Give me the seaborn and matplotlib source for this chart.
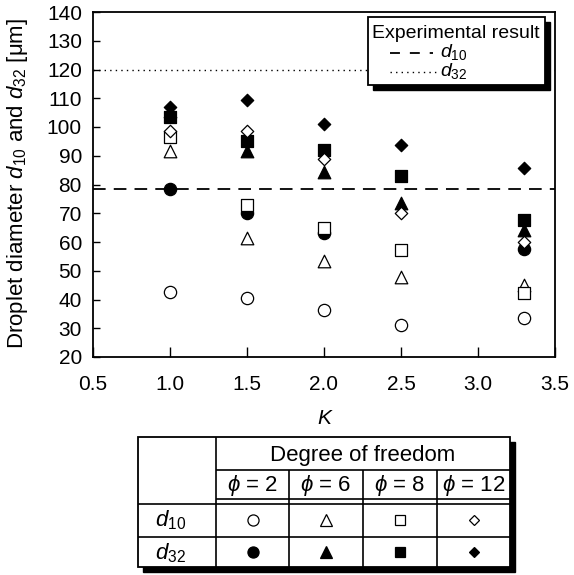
import numpy as np
import pandas as pd
import matplotlib
matplotlib.use("Agg")
import matplotlib.pyplot as plt
from matplotlib.patches import Rectangle
import seaborn as sns

# ---------------- data ----------------
K = [1.0, 1.5, 2.0, 2.5, 3.3]
d10_phi2 = [42.5, 40.5, 36.5, 31.0, 33.5]
d32_phi2 = [78.5, 70.0, 63.0, np.nan, 57.5]
d10_phi6 = [91.7, 61.5, 53.5, 47.8, 45.2]
d32_phi6 = [105.5, 91.8, 84.5, 73.5, 64.2]
d10_phi8 = [96.5, 72.8, 65.0, 57.2, 42.2]
d32_phi8 = [103.5, 95.3, 92.0, 83.0, 67.5]
d10_phi12 = [98.5, 98.5, 89.0, 70.0, 60.0]
d32_phi12 = [107.0, 109.5, 101.0, 93.8, 85.8]
exp_d10 = 78.5
exp_d32 = 120.0
phi_labels = ["2", "6", "8", "12"]
x_ticks = [0.5, 1.0, 1.5, 2.0, 2.5, 3.0, 3.5]
y_ticks = list(range(20, 141, 10))

sns.set_theme(style="ticks")
plt.rcParams["font.family"] = ["Liberation Sans", "DejaVu Sans"]
plt.rcParams["mathtext.fontset"] = "custom"
plt.rcParams["mathtext.it"] = "Liberation Sans:italic"
plt.rcParams["mathtext.rm"] = "Liberation Sans"
plt.rcParams["mathtext.fallback"] = "cm"

W, H = 574, 575
fig = plt.figure(figsize=(W / 100, H / 100), dpi=100)
fig.patch.set_facecolor("white")
L, R, T, B = 93, 555, 12, 357
ax = fig.add_axes([L / W, 1 - B / H, (R - L) / W, (B - T) / H])
ax.set_facecolor("white")

series = [
    (d10_phi2, "o", 78, False),
    (d32_phi2, "o", 78, True),
    (d10_phi6, "^", 82, False),
    (d32_phi6, "^", 82, True),
    (d10_phi8, "s", 66, False),
    (d32_phi8, "s", 66, True),
    (d10_phi12, "D", 40, False),
    (d32_phi12, "D", 40, True),
]
for vals, m, s, filled in series:
    df = pd.DataFrame({"K": K, "d": vals})
    sns.scatterplot(data=df, x="K", y="d", marker=m, s=s,
                    color="black" if filled else "white",
                    edgecolor="black", linewidth=0.9, ax=ax, legend=False,
                    zorder=3)

ax.axhline(exp_d10, color="black", lw=1.3, dashes=(7, 4.5), zorder=2)
ax.axhline(exp_d32, color="black", lw=1.0, dashes=(1, 3), zorder=2)

ax.set_xlim(0.5, 3.5)
ax.set_ylim(20, 140)
ax.set_xticks(x_ticks)
ax.set_xticklabels([f"{v:.1f}" for v in x_ticks])
ax.set_yticks(y_ticks)
ax.set_xlabel("")
ax.set_ylabel("")
for sp in ax.spines.values():
    sp.set_color("black")
    sp.set_linewidth(1.3)
ax.tick_params(axis="y", direction="in", length=5, width=1, labelsize=15,
               pad=8, colors="black", right=False, left=True)
ax.tick_params(axis="x", direction="in", length=7, width=1, labelsize=15,
               pad=13, colors="black", top=False, bottom=True)

fig.text(18 / W, 1 - 183 / H,
         "Droplet diameter $\\mathit{d}_{\\mathit{10}}$ and $\\mathit{d}_{\\mathit{32}}$ [μm]",
         rotation=90, ha="center", va="center", fontsize=16, color="black")
fig.text(324 / W, 1 - 419 / H, "K", style="italic", ha="center", va="center",
         fontsize=15, color="black")

# ---------------- overlay for legend & table ----------------
ov = fig.add_axes([0, 0, 1, 1], zorder=10)
ov.set_xlim(0, W)
ov.set_ylim(H, 0)
ov.axis("off")

# legend box
lx0, ly0, lx1, ly1 = 368, 17, 545, 85
ov.add_patch(Rectangle((lx0 + 5, ly0 + 5), lx1 - lx0, ly1 - ly0, fc="black", ec="black", lw=1))
ov.add_patch(Rectangle((lx0, ly0), lx1 - lx0, ly1 - ly0, fc="white", ec="black", lw=1.3))
ov.text(372, 34, "Experimental result", ha="left", va="center", fontsize=14, color="black")
ov.plot([390, 433], [53, 53], color="black", lw=1.3, dashes=(5.5, 5.5))
ov.plot([390, 436], [72, 72], color="black", lw=1.0, dashes=(1, 3))
ov.text(440, 52, "$\\mathit{d}_{\\mathit{10}}$", ha="left", va="center", fontsize=14, color="black")
ov.text(440, 71, "$\\mathit{d}_{\\mathit{32}}$", ha="left", va="center", fontsize=14, color="black")

# table
tx0, ty0, tx1, ty1 = 138, 437, 510, 567
ov.add_patch(Rectangle((tx0 + 5, ty0 + 5), tx1 - tx0, ty1 - ty0, fc="black", ec="black", lw=1))
ov.add_patch(Rectangle((tx0, ty0), tx1 - tx0, ty1 - ty0, fc="white", ec="black", lw=1.3))
cols = [216, 289, 363, 437, 510]
lk = dict(color="black", lw=1.2, solid_capstyle="butt")
ov.plot([216, 216], [ty0, ty1], **lk)
ov.plot([216, tx1], [470, 470], **lk)
for cx in cols[1:-1]:
    ov.plot([cx, cx], [470, ty1], **lk)
ov.plot([216, tx1], [499, 499], **lk)
ov.plot([tx0, tx1], [504, 504], **lk)
ov.plot([tx0, tx1], [537, 537], **lk)
ov.text(363, 456, "Degree of freedom", ha="center", va="center", fontsize=16, color="black")
centers = [(cols[i] + cols[i + 1]) / 2 for i in range(4)]
for cx, p in zip(centers, phi_labels):
    ov.text(cx, 486, f"$\\phi$ = {p}", ha="center", va="center", fontsize=16, color="black")
ov.text(155, 520, "$\\mathit{d}_{\\mathit{10}}$", ha="left", va="center", fontsize=16, color="black")
ov.text(155, 553, "$\\mathit{d}_{\\mathit{32}}$", ha="left", va="center", fontsize=16, color="black")
mk = [("o", 8), ("^", 8.5), ("s", 7.5), ("D", 5.5)]
for cx, (m, ms) in zip(centers, mk):
    ov.plot([cx], [520], marker=m, ms=ms, mfc="white", mec="black", mew=0.9, ls="none")
    ov.plot([cx], [552], marker=m, ms=ms, mfc="black", mec="black", mew=0.9, ls="none")

fig.savefig("out.png", dpi=100)
